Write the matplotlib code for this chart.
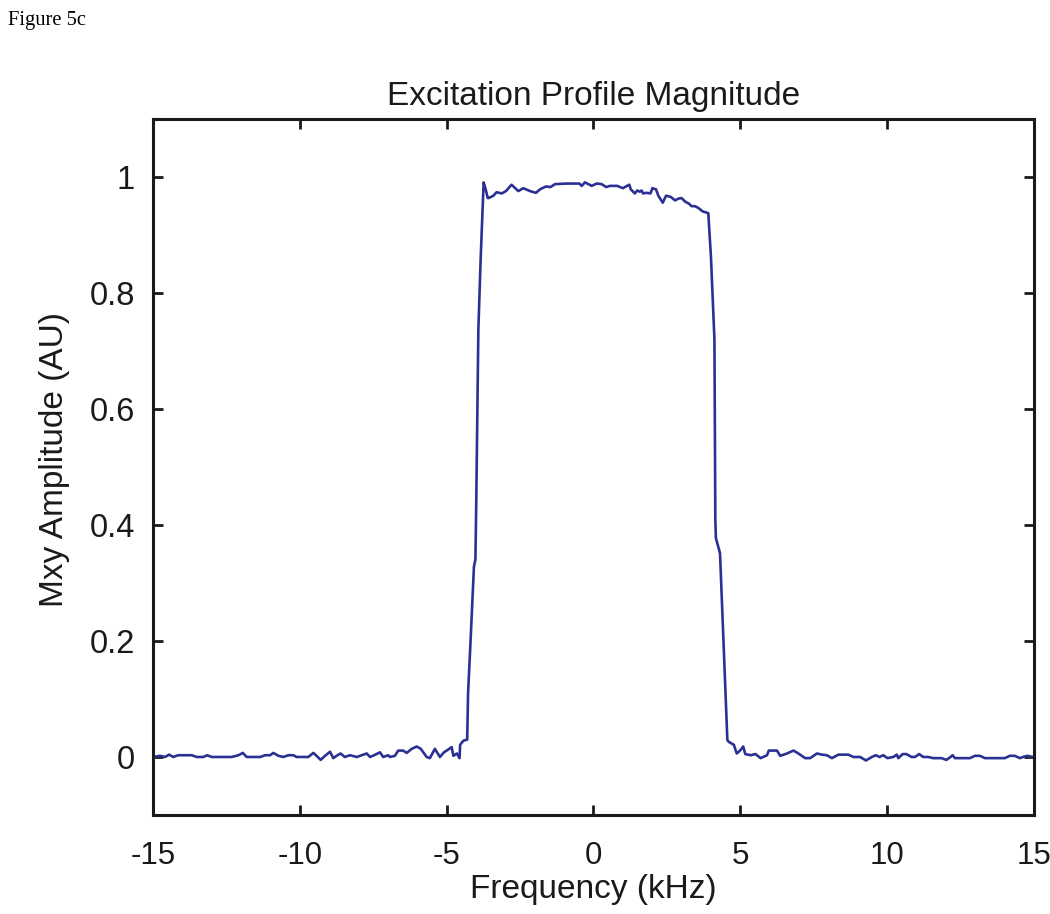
import matplotlib
matplotlib.use("Agg")
import matplotlib.pyplot as plt

# Frequency (kHz) and Mxy amplitude (AU)
freq_khz = [
    -15.0, -14.76, -14.59, -14.45, -14.31, -14.14, -13.68, -13.51, -13.29, -13.15,
    -13.0, -12.32, -12.09, -11.94, -11.81, -11.35, -11.18, -11.01, -10.9, -10.73,
    -10.56, -10.39, -10.22, -10.11, -9.71, -9.54, -9.43, -9.29, -9.14, -8.97,
    -8.86, -8.75, -8.61, -8.47, -8.29, -8.06, -7.89, -7.72, -7.61, -7.47,
    -7.27, -7.16, -6.99, -6.93, -6.76, -6.65, -6.48, -6.36, -6.19, -6.02,
    -5.88, -5.68, -5.57, -5.40, -5.23, -5.09, -4.94, -4.83, -4.77, -4.65,
    -4.56, -4.54, -4.43, -4.30, -4.27, -4.20, -4.07, -4.02, -3.99, -3.92,
    -3.84, -3.74, -3.68, -3.60, -3.57, -3.41, -3.30, -3.12, -2.98, -2.79,
    -2.56, -2.39, -2.16, -1.96, -1.82, -1.62, -1.46, -1.31, -0.91, -0.48,
    -0.40, -0.29, -0.06, 0.11, 0.28, 0.43, 0.56, 0.81, 1.00, 1.22,
    1.27, 1.41, 1.49, 1.58, 1.64, 1.69, 1.81, 1.94, 2.01, 2.13,
    2.21, 2.36, 2.47, 2.63, 2.78, 2.89, 3.00, 3.12, 3.26, 3.34,
    3.46, 3.57, 3.72, 3.91, 4.00, 4.12, 4.15, 4.17, 4.31, 4.56,
    4.61, 4.78, 4.88, 4.99, 5.10, 5.17, 5.35, 5.52, 5.69, 5.91,
    5.97, 6.25, 6.36, 6.59, 6.81, 6.98, 7.21, 7.38, 7.61, 7.78,
    7.95, 8.12, 8.34, 8.68, 8.85, 9.08, 9.28, 9.48, 9.62, 9.74,
    9.87, 10.01, 10.21, 10.33, 10.38, 10.53, 10.66, 10.83, 10.95, 11.09,
    11.23, 11.40, 11.57, 11.85, 12.02, 12.16, 12.23, 12.31, 12.82, 12.99,
    13.16, 13.33, 14.01, 14.18, 14.35, 14.52, 14.63, 14.77, 14.97,
]
mxy_au = [
    0.0, 0.002, 0.0, 0.004, 0.0, 0.003, 0.003, 0.0, 0.0, 0.003,
    0.0, 0.0, 0.003, 0.007, 0.0, 0.0, 0.003, 0.003, 0.007, 0.002,
    0.0, 0.003, 0.003, 0.0, 0.0, 0.007, 0.002, -0.005, 0.002, 0.009,
    -0.002, 0.002, 0.006, 0.0, 0.003, 0.0, 0.003, 0.006, 0.0, 0.003,
    0.008, 0.0, 0.003, 0.0, 0.002, 0.011, 0.011, 0.007, 0.014, 0.018,
    0.014, 0.0, -0.002, 0.014, 0.0, 0.008, 0.013, 0.017, 0.002, 0.006,
    -0.002, 0.021, 0.028, 0.030, 0.11, 0.184, 0.328, 0.34, 0.443, 0.736,
    0.86, 0.990, 0.980, 0.963, 0.963, 0.967, 0.973, 0.971, 0.975, 0.986,
    0.975, 0.980, 0.975, 0.972, 0.978, 0.983, 0.982, 0.987, 0.988, 0.988,
    0.984, 0.990, 0.984, 0.988, 0.987, 0.982, 0.984, 0.984, 0.980, 0.986,
    0.978, 0.971, 0.976, 0.974, 0.976, 0.971, 0.972, 0.971, 0.980, 0.978,
    0.967, 0.955, 0.967, 0.965, 0.959, 0.962, 0.963, 0.957, 0.953, 0.949,
    0.949, 0.946, 0.940, 0.937, 0.863, 0.719, 0.409, 0.377, 0.351, 0.029,
    0.026, 0.021, 0.006, 0.011, 0.018, 0.005, 0.003, 0.005, -0.002, 0.003,
    0.011, 0.011, 0.002, 0.006, 0.011, 0.006, -0.002, -0.002, 0.006, 0.004,
    0.003, -0.002, 0.004, 0.004, 0.0, 0.0, -0.006, 0.0, 0.003, 0.0,
    0.003, -0.002, 0.0, 0.004, -0.002, 0.005, 0.005, 0.0, 0.0, 0.005,
    0.0, 0.0, -0.002, -0.002, -0.005, 0.0, 0.003, -0.002, -0.002, 0.002,
    0.002, -0.002, -0.002, 0.002, 0.002, -0.002, 0.0, 0.002, 0.0,
]
x_ticks = [-15, -10, -5, 0, 5, 10, 15]
x_tick_labels = ["-15", "-10", "-5", "0", "5", "10", "15"]
y_ticks = [0, 0.2, 0.4, 0.6, 0.8, 1]
y_tick_labels = ["0", "0.2", "0.4", "0.6", "0.8", "1"]

plt.rcParams['font.family'] = ['Liberation Sans', 'DejaVu Sans']
plt.rcParams['axes.unicode_minus'] = False

fig = plt.figure(figsize=(10.5, 9.14), dpi=100)
ax = fig.add_axes([0.1457, 0.1083, 0.839, 0.762])
ax.plot(freq_khz, mxy_au, color='#2b3192', linewidth=1.9)
ax.set_xlim(-15, 15)
ax.set_ylim(-0.1, 1.1)
ax.set_xticks(x_ticks)
ax.set_xticklabels(x_tick_labels)
ax.set_yticks(y_ticks)
ax.set_yticklabels(y_tick_labels)
ax.tick_params(direction='in', length=7, width=2, top=True, right=True,
               labelsize=23.5, colors='#1a1a1a')
ax.tick_params(axis='x', pad=19, labelsize=22.5)
ax.tick_params(axis='y', pad=13)
for s in ax.spines.values():
    s.set_linewidth(2.2)
    s.set_color('#1a1a1a')
ax.set_title("Excitation Profile Magnitude", fontsize=24, color='#1a1a1a', pad=10)
ax.set_xlabel("Frequency (kHz)", fontsize=24, color='#1a1a1a', labelpad=2)
ax.set_ylabel("Mxy Amplitude (AU)", fontsize=24, color='#1a1a1a', labelpad=14)
ax.yaxis.label.set_y(0.51)

fig.text(0.008, 0.978, "Figure 5c", family='Liberation Serif', fontsize=14.8,
         ha='left', va='center', color='black')

fig.savefig("out.png", dpi=100)
